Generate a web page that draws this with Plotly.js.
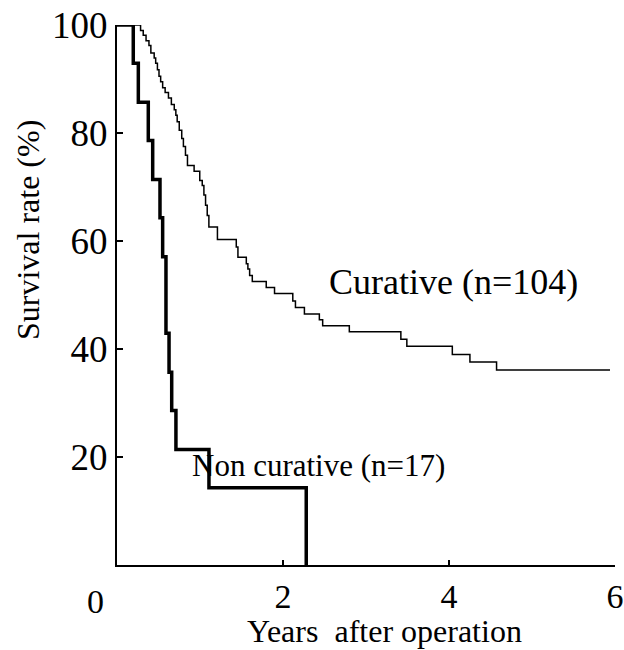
<!DOCTYPE html>
<html>
<head>
<meta charset="utf-8">
<script src="https://cdn.plot.ly/plotly-3.0.1.min.js"></script>
<style>html,body{margin:0;padding:0;background:#fff;}#chart{width:624px;height:650px;}</style>
</head>
<body>
<div id="chart"></div>
<script>
// Non curative (n=17): time in years, survival rate in %
const nonCurativeTimes = [0, 0.196, 0.257, 0.377, 0.43, 0.518, 0.55, 0.59, 0.627, 0.659, 0.71, 1.108, 2.28];
const nonCurativeSurv  = [100, 92.9, 85.7, 78.6, 71.4, 64.3, 57.1, 42.9, 35.7, 28.6, 21.4, 14.3, 0];

// Curative (n=104)
const curativeTimes = [0, 0.284, 0.316, 0.350, 0.385, 0.408, 0.448, 0.466, 0.487, 0.506, 0.526, 0.55, 0.58, 0.62, 0.655, 0.69, 0.709, 0.725, 0.75, 0.78, 0.80, 0.825, 0.849, 0.929, 0.997, 1.027, 1.047, 1.067, 1.087, 1.107, 1.21, 1.437, 1.457, 1.558, 1.577, 1.598, 1.63, 1.798, 1.898, 2.118, 2.15, 2.258, 2.438, 2.478, 2.799, 3.42, 3.492, 4.04, 4.252, 4.573, 5.94];
const curativeSurv  = [100, 99.0, 98.1, 97.1, 96.2, 94.8, 93.9, 92.9, 91.7, 90.5, 89.5, 88.4, 87.5, 86.5, 85.3, 84.3, 83.3, 82.1, 80.5, 79.0, 77.5, 75.9, 74.0, 72.9, 71.2, 70.3, 68.5, 66.6, 64.7, 62.6, 60.3, 58.9, 57.0, 55.8, 54.8, 53.6, 52.5, 51.4, 50.3, 48.9, 47.7, 46.5, 45.4, 44.3, 43.2, 41.8, 40.5, 39.0, 37.6, 36.1, 36.1];

const xTickVals = [2, 4, 6];
const xTickText = ["2", "4", "6"];
const yTickVals = [20, 40, 60, 80, 100];
const yTickText = ["20", "40", "60", "80", "100"];

const FONT = "Liberation Serif, Times New Roman, serif";
const FS = 34;

const traces = [
  {x: curativeTimes, y: curativeSurv, mode: "lines", line: {shape: "hv", color: "#000", width: 1.5}, cliponaxis: false, name: "Curative (n=104)"},
  {x: nonCurativeTimes, y: nonCurativeSurv, mode: "lines", line: {shape: "hv", color: "#000", width: 3.5}, cliponaxis: false, name: "Non curative (n=17)"}
];

const layout = {
  width: 624, height: 650,
  margin: {l: 117, r: 9, t: 25, b: 85},
  paper_bgcolor: "#fff", plot_bgcolor: "#fff",
  showlegend: false,
  font: {family: FONT, size: FS, color: "#000"},
  xaxis: {range: [0, 6], tickvals: xTickVals, ticktext: xTickText, ticks: "inside", ticklen: 5, tickwidth: 1.5, tickcolor: "#000",
          ticklabeloverflow: "allow",
          showline: true, linewidth: 2, linecolor: "#000", showgrid: false, zeroline: false, tickfont: {family: FONT, size: FS}},
  yaxis: {range: [0, 100], tickvals: yTickVals, ticktext: yTickText, ticks: "inside", ticklen: 6, tickwidth: 1.5, tickcolor: "#000",
          showline: true, linewidth: 2, linecolor: "#000", showgrid: false, zeroline: false, tickfont: {family: FONT, size: 37}},
  annotations: [
    {text: "Curative (n=104)", x: 4.06, y: 52.4, xref: "x", yref: "y", xanchor: "center", yanchor: "middle", showarrow: false, font: {family: FONT, size: 36}},
    {text: "Non curative (n=17)", x: 2.43, y: 18.4, xref: "x", yref: "y", xanchor: "center", yanchor: "middle", showarrow: false, font: {family: FONT, size: 31}},
    {text: "0", x: 0, y: 0, xref: "x", yref: "y", xanchor: "center", yanchor: "middle", xshift: -22, yshift: -36, showarrow: false, font: {family: FONT, size: FS}},
    {text: "Years\u00a0 after operation", x: 3.22, y: -0.123, xref: "x", yref: "paper", xanchor: "center", yanchor: "middle", showarrow: false, font: {family: FONT, size: 32}},
    {text: "Survival rate (%)", x: -0.179, y: 62, xref: "paper", yref: "y", xanchor: "center", yanchor: "middle", textangle: -90, showarrow: false, font: {family: FONT, size: 32}}
  ]
};

Plotly.newPlot("chart", traces, layout, {displayModeBar: false, staticPlot: true});
</script>
</body>
</html>
